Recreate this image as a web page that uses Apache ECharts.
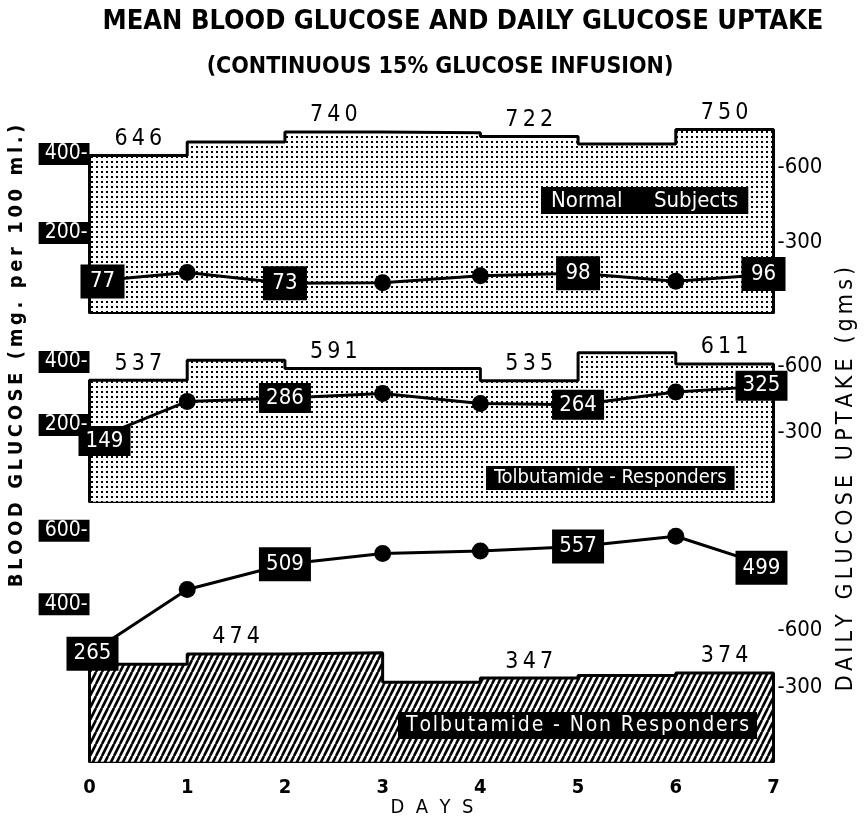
<!DOCTYPE html>
<html><head><meta charset="utf-8">
<script src="https://cdn.jsdelivr.net/npm/echarts@6/dist/echarts.min.js"></script>
<style>html,body{margin:0;padding:0;background:#fff}#c{width:866px;height:822px}</style>
</head><body><div id="c"></div>
<script>
// ---- data ----
const dayTicks = ['0','1','2','3','4','5','6','7'];
// mean blood glucose (mg per 100 ml) at each day 0..7
const bgNormal   = [77, 100, 73, 74, 92, 98, 78, 96];
const bgResp     = [149, 275, 286, 300, 268, 264, 305, 325];
const bgNonResp  = [265, 440, 509, 538, 545, 557, 585, 499];
// daily glucose uptake (g) for days 1..7 (interval d-1..d)
const upNormal   = [646, 700, 740, 737, 722, 692, 750];
const upResp     = [537, 628, 591, 591, 535, 662, 611];
const upNonResp  = [420, 474, 480, 325, 347, 360, 374];
// which values carry printed labels
const bgLabNormal = [0, 2, 5, 7];
const bgLabResp = [0, 2, 5, 7];
const bgLabNonResp = [0, 2, 5, 7];
const upLabNormal = [0, 2, 4, 6];
const upLabResp = [0, 2, 4, 6];
const upLabNonResp = [1, 4, 6];
const bgTickNormal = [200, 400];
const bgTickResp = [200, 400];
const bgTickNonResp = [400, 600];
const upTicks = [300, 600];
const panelNames = ['Normal     Subjects', 'Tolbutamide - Responders', 'Tolbutamide - Non Responders'];

const FONT = "'DejaVu Sans Condensed', 'Liberation Sans Narrow', 'Noto Sans', sans-serif";
const HS = '\u200A', TS = '\u2009';
const spaced = (s, sp) => s.split('').join(sp);

function dotPattern(){
  const c = document.createElement('canvas'); c.width = 5; c.height = 5;
  const g = c.getContext('2d'); g.fillStyle = '#fff'; g.fillRect(0,0,5,5);
  g.fillStyle = '#000'; g.fillRect(1,1,2,2); return c;
}
function hatchPattern(){
  const w = 6, h = 12;
  const c = document.createElement('canvas'); c.width = w; c.height = h;
  const g = c.getContext('2d'); g.fillStyle = '#fff'; g.fillRect(0,0,w,h);
  g.strokeStyle = '#000'; g.lineWidth = 2.6;
  for (const k of [-w, 0, w]) { g.beginPath(); g.moveTo(k, h); g.lineTo(k + w, 0); g.stroke(); }
  return c;
}

const panels = [
  {bg: bgNormal, up: upNormal, bgLab: bgLabNormal, upLab: upLabNormal, bgTicks: bgTickNormal,
   top: 112, bottomY: 312, bgMin: 0, bgMax: 506, upMin: 20, upMax: 820,
   pat: dotPattern(), box: [44, 34], firstOff: 13, lastOff: -10,
   name: panelNames[0], nameLeft: 541, nameTop: 187, nameSize: 22, namePad: [3, 10, 2, 10]},
  {bg: bgResp, up: upResp, bgLab: bgLabResp, upLab: upLabResp, bgTicks: bgTickResp,
   top: 330, bottomY: 501.7, bgMin: -43.5, bgMax: 501.6, upMin: -15, upMax: 765.5,
   pat: dotPattern(), box: [52, 30], firstOff: 15, lastOff: -12,
   name: panelNames[1], nameLeft: 486, nameTop: 466, nameSize: 20, namePad: [2, 8, 2, 8]},
  {bg: bgNonResp, up: upNonResp, bgLab: bgLabNonResp, upLab: upLabNonResp, bgTicks: bgTickNonResp,
   top: 520, bottomY: 761.7, bgMin: -29.2, bgMax: 629.4, upMin: -93.2, upMax: 1178.9,
   pat: hatchPattern(), box: [52, 34], firstOff: 3, lastOff: -12,
   name: spaced(panelNames[2], HS), nameLeft: 398, nameTop: 712, nameSize: 21, namePad: [3, 8, 3, 8]}
];

const grid = [], xAxis = [], yAxis = [], series = [], title = [];
panels.forEach((p, i) => {
  grid.push({left: 89.5, right: 92.5, top: p.top, height: p.bottomY - p.top});
  xAxis.push({type: 'value', gridIndex: i, min: 0, max: 7, interval: 1,
    axisLine: {show: true, onZero: false, lineStyle: {color: '#000', width: 3}},
    axisTick: {show: false}, splitLine: {show: false},
    axisLabel: {show: i === 2, margin: 16, color: '#000', fontSize: 20, fontFamily: FONT, fontWeight: 'bold',
      formatter: v => dayTicks[v]}});
  yAxis.push({type: 'value', gridIndex: i, position: 'left', min: p.bgMin, max: p.bgMax,
    axisLine: {show: false, onZero: false}, axisTick: {show: false}, splitLine: {show: false},
    axisLabel: {customValues: p.bgTicks, margin: 0, color: '#fff', backgroundColor: '#000',
      padding: [1, 2, 0, 6], fontSize: 21, fontFamily: FONT, formatter: v => v + '-'}});
  yAxis.push({type: 'value', gridIndex: i, position: 'right', min: p.upMin, max: p.upMax,
    axisLine: {show: false, onZero: false}, axisTick: {show: false}, splitLine: {show: false},
    axisLabel: {customValues: upTicks, margin: 4, color: '#000',
      fontSize: 22, fontFamily: FONT, formatter: v => '-' + v}});

  // uptake step box
  const stepData = [[0, p.upMin]];
  p.up.forEach((v, k) => stepData.push([k, v]));
  stepData.push([7, p.up[p.up.length - 1]]);
  stepData.push([7, p.upMin]);
  series.push({type: 'line', xAxisIndex: i, yAxisIndex: 2 * i + 1, step: 'end', symbol: 'none',
    clip: false, z: 1, silent: true,
    lineStyle: {color: '#000', width: 3},
    areaStyle: {origin: 'start', opacity: 1, color: {image: p.pat, repeat: 'repeat'}},
    data: stepData});
  // uptake value labels
  series.push({type: 'scatter', xAxisIndex: i, yAxisIndex: 2 * i + 1, symbolSize: 0, z: 3, silent: true,
    itemStyle: {opacity: 1},
    label: {show: true, position: 'top', distance: 5, color: '#000', opacity: 1, fontSize: 23, fontFamily: FONT,
      formatter: q => spaced(String(q.value[1]), TS)},
    data: p.upLab.map(k => [k + 0.5, p.up[k]])});
  // blood glucose line
  series.push({type: 'line', xAxisIndex: i, yAxisIndex: 2 * i, z: 5, showAllSymbol: true, clip: false,
    lineStyle: {color: '#000', width: 3}, itemStyle: {color: '#000'},
    symbol: 'circle', symbolSize: 17,
    data: p.bg.map((v, d) => {
      if (p.bgLab.indexOf(d) < 0) return [d, v];
      const off = d === 0 ? p.firstOff : (d === 7 ? p.lastOff : 0);
      return {value: [d, v], symbol: 'rect', symbolSize: p.box, symbolOffset: [off, 0],
        label: {show: true, position: 'inside', color: '#fff', fontSize: 22, fontFamily: FONT,
          formatter: String(v)}};
    })});
  title.push({text: p.name, left: p.nameLeft, top: p.nameTop, backgroundColor: '#000',
    padding: p.namePad,
    textStyle: {color: '#fff', fontSize: p.nameSize, fontWeight: 'normal', fontFamily: FONT}});
});

const txt = (x, y, text, font, rot) => ({type: 'text', x, y, rotation: rot || 0,
  style: {text, font, fill: '#000', align: 'center', verticalAlign: 'middle',
    textAlign: 'center', textVerticalAlign: 'middle'}});
const graphic = [
  txt(463, 22, 'MEAN BLOOD GLUCOSE AND DAILY GLUCOSE UPTAKE', "bold 27px " + FONT),
  txt(440, 67, '(CONTINUOUS 15% GLUCOSE INFUSION)', "bold 23px " + FONT),
  txt(432, 808, 'D  A  Y  S', "20px " + FONT),
  txt(17, 356, spaced('BLOOD GLUCOSE (mg. per 100 ml.)', TS), "bold 20px " + FONT, Math.PI / 2),
  txt(846, 479, spaced('DAILY GLUCOSE UPTAKE (gms)', TS), "23px " + FONT, Math.PI / 2)
];

const chart = echarts.init(document.getElementById('c'), null, {renderer: 'canvas'});
chart.setOption({animation: false, backgroundColor: '#fff', grid, xAxis, yAxis, series, title, graphic});
</script></body></html>
